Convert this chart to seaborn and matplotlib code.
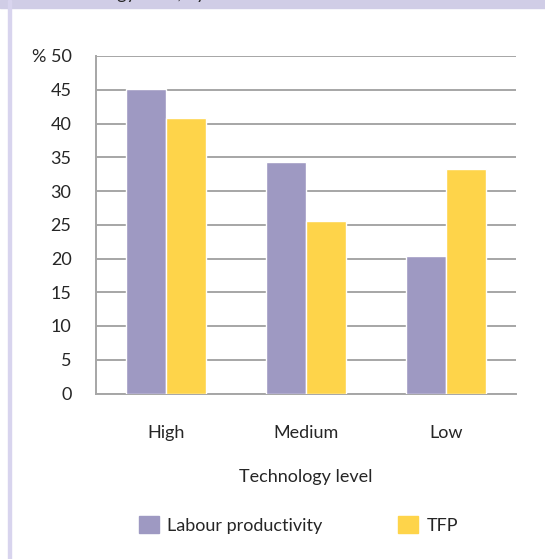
import matplotlib
matplotlib.use("Agg")
import matplotlib.pyplot as plt
import matplotlib.patches as mpatches
import seaborn as sns
import pandas as pd

# values
levels = ["High", "Medium", "Low"]
labour_productivity = [45.1, 34.3, 20.4]
tfp = [40.8, 25.6, 33.3]
y_ticks = [0, 5, 10, 15, 20, 25, 30, 35, 40, 45, 50]
y_tick_labels = ["0", "5", "10", "15", "20", "25", "30", "35", "40", "45", "% 50"]

df = pd.DataFrame({
    "level": levels * 2,
    "value": labour_productivity + tfp,
    "series": ["Labour productivity"] * 3 + ["TFP"] * 3,
})

sns.set_style("white")
plt.rcParams["font.family"] = ["Lato", "DejaVu Sans"]
fs = 13
text_col = "#262626"
grid_col = "#a6a6a6"

fig = plt.figure(figsize=(5.45, 5.59), dpi=100)
ax = fig.add_axes([96 / 545, 1 - 393.5 / 559, 420 / 545, 337.5 / 559])

sns.barplot(data=df, x="level", y="value", hue="series", order=levels,
            palette={"Labour productivity": "#9e99c2", "TFP": "#fed44a"},
            width=0.571, gap=0, saturation=1, legend=False, ax=ax, zorder=3)

ax.set_ylim(0, 50)
ax.set_yticks(y_ticks)
ax.set_yticklabels(y_tick_labels, color=text_col)
ax.yaxis.grid(True, color=grid_col, linewidth=1.4, zorder=0)
ax.set_axisbelow(True)
ax.tick_params(axis="y", length=8.6, width=1.4, color=grid_col, pad=9, labelsize=fs)
ax.tick_params(axis="x", length=0, pad=23, labelsize=fs, labelcolor=text_col)

for s in ["top", "right"]:
    ax.spines[s].set_visible(False)
for s in ["left", "bottom"]:
    ax.spines[s].set_color(grid_col)
    ax.spines[s].set_linewidth(1.4)

ax.set_ylabel("")
ax.set_xlabel("Technology level", fontsize=fs, color=text_col, labelpad=20)

# legend below the x label
handles = [mpatches.Patch(color="#9e99c2", label="Labour productivity"),
           mpatches.Patch(color="#fed44a", label="TFP")]
fig.legend(handles=handles, loc="center left", bbox_to_anchor=(123 / 545, 1 - 525 / 559),
           ncol=2, frameon=False, handlelength=1.1, handleheight=1.1,
           handletextpad=0.45, columnspacing=4.2, fontsize=fs, labelcolor=text_col)

# lavender frame: top band and left rule
fig.patches.append(mpatches.Rectangle((0, 1 - 8 / 559), 1, 8 / 559, transform=fig.transFigure,
                                      color="#d0cde6", zorder=0))
fig.patches.append(mpatches.Rectangle((8 / 545, 0), 3 / 545, 1, transform=fig.transFigure,
                                      color="#d8d4ee", zorder=0))
# clipped caption at the very top (only descenders show)
fig.text(48 / 545, 1 + 0.5 / 559, "technology level, by", fontsize=fs, color=text_col,
         va="baseline", ha="left")

fig.savefig("out.png", dpi=100)
